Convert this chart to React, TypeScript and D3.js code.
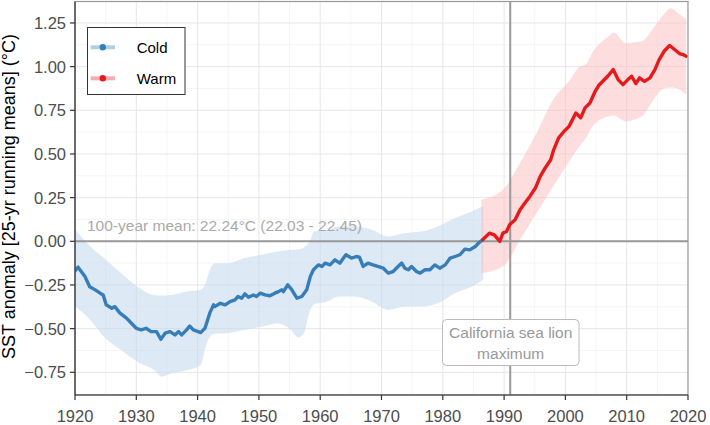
import React from "react";
import * as d3 from "d3";

// ---- data ----
const coldYears = [1920.0,1920.5,1921.6,1922.4,1923.3,1924.1,1924.6,1925.1,1926.0,1926.5,1927.3,1928.4,1929.2,1930.0,1930.8,1931.6,1932.4,1933.3,1934.0,1934.7,1935.5,1936.3,1936.9,1937.4,1938.2,1938.7,1939.3,1940.1,1940.5,1941.2,1942.0,1942.6,1942.8,1943.7,1944.5,1945.3,1946.1,1946.6,1947.2,1947.7,1948.3,1949.1,1949.6,1950.2,1951.0,1951.8,1952.6,1953.2,1953.7,1954.0,1954.7,1955.3,1956.2,1957.0,1957.8,1958.4,1958.9,1959.7,1960.3,1960.8,1961.6,1962.4,1963.2,1963.8,1964.2,1965.1,1965.9,1966.4,1967.0,1967.8,1968.6,1969.4,1970.3,1971.1,1971.9,1972.7,1973.3,1973.8,1974.4,1974.9,1975.7,1976.3,1977.1,1977.9,1978.7,1979.5,1980.4,1981.2,1982.0,1982.8,1983.6,1984.4,1985.3,1985.8,1986.5];
const coldValues = [-0.17,-0.148,-0.2,-0.26,-0.278,-0.297,-0.307,-0.364,-0.383,-0.374,-0.41,-0.44,-0.469,-0.498,-0.507,-0.498,-0.517,-0.517,-0.561,-0.526,-0.517,-0.536,-0.517,-0.536,-0.507,-0.485,-0.507,-0.517,-0.523,-0.498,-0.41,-0.364,-0.374,-0.355,-0.364,-0.345,-0.335,-0.316,-0.326,-0.301,-0.32,-0.307,-0.316,-0.297,-0.307,-0.312,-0.297,-0.288,-0.278,-0.288,-0.249,-0.274,-0.326,-0.316,-0.278,-0.2,-0.163,-0.135,-0.144,-0.125,-0.135,-0.106,-0.125,-0.096,-0.077,-0.096,-0.087,-0.091,-0.144,-0.125,-0.135,-0.144,-0.154,-0.182,-0.173,-0.144,-0.125,-0.154,-0.163,-0.144,-0.173,-0.182,-0.163,-0.163,-0.135,-0.154,-0.135,-0.096,-0.087,-0.077,-0.045,-0.049,-0.03,-0.011,0.009];

const warmYears = [1986.5,1987.6,1988.4,1989.3,1989.8,1990.4,1990.9,1991.8,1992.6,1993.4,1994.2,1995.1,1995.9,1996.7,1997.6,1998.1,1998.9,1999.8,2000.6,2001.7,2002.5,2003.2,2004.0,2004.8,2005.5,2006.1,2006.9,2007.8,2008.6,2009.4,2010.2,2010.8,2011.5,2012.1,2012.9,2013.8,2014.6,2015.3,2016.1,2017.0,2017.8,2018.6,2019.2,2019.7];
const warmValues = [0.009,0.047,0.037,0.0,0.047,0.056,0.095,0.123,0.181,0.219,0.257,0.305,0.372,0.42,0.467,0.525,0.592,0.63,0.658,0.735,0.707,0.764,0.792,0.855,0.895,0.916,0.945,0.983,0.926,0.897,0.926,0.945,0.903,0.936,0.916,0.936,0.983,1.04,1.088,1.121,1.098,1.075,1.069,1.06];

const coldBandYears = [1920.0,1922.5,1924.7,1927.5,1930.2,1932.9,1934.2,1935.7,1938.4,1940.5,1941.2,1942.0,1942.8,1945.0,1947.7,1950.4,1953.1,1955.0,1956.5,1957.3,1958.3,1959.0,1961.2,1963.0,1965.7,1968.4,1971.1,1973.8,1976.5,1979.2,1982.0,1984.7,1986.6];
const coldBandHi = [0.07,-0.03,-0.096,-0.182,-0.26,-0.307,-0.31,-0.307,-0.288,-0.278,-0.249,-0.163,-0.125,-0.125,-0.096,-0.077,-0.058,-0.05,-0.045,-0.035,0.0,0.056,0.066,0.085,0.085,0.066,0.028,0.047,0.056,0.085,0.133,0.171,0.2];
const coldBandLo = [-0.37,-0.45,-0.546,-0.622,-0.689,-0.737,-0.775,-0.756,-0.737,-0.708,-0.62,-0.546,-0.53,-0.526,-0.507,-0.489,-0.47,-0.5,-0.55,-0.53,-0.4,-0.36,-0.345,-0.316,-0.316,-0.345,-0.393,-0.374,-0.374,-0.355,-0.297,-0.26,-0.22];

const warmBandYears = [1986.3,1989.8,1992.6,1995.3,1998.0,2000.8,2002.0,2003.5,2004.4,2007.1,2007.9,2009.8,2012.5,2014.2,2015.8,2017.2,2018.6,2019.7];
const warmBandHi = [0.238,0.295,0.448,0.62,0.811,0.926,0.99,1.02,1.079,1.174,1.194,1.136,1.146,1.213,1.289,1.335,1.3,1.27];
const warmBandLo = [-0.182,-0.144,0.009,0.162,0.314,0.467,0.53,0.6,0.658,0.716,0.72,0.687,0.716,0.8,0.869,0.88,0.869,0.84];

const xTicks = [1920,1930,1940,1950,1960,1970,1980,1990,2000,2010,2020];
const yTicks = [-0.75,-0.5,-0.25,0,0.25,0.5,0.75,1.0,1.25];
const xMinor = [1925,1935,1945,1955,1965,1975,1985,1995,2005,2015];
const yMinor = [-0.875,-0.625,-0.375,-0.125,0.125,0.375,0.625,0.875,1.125,1.375];
const eventYear = 1991;
const meanLabel = "100-year mean: 22.24°C (22.03 - 22.45)";
const yTitle = "SST anomaly [25-yr running means] (°C)";
const legendLabels = ["Cold", "Warm"];

const W = 710, H = 425;
const L = 75, R = 688, T = 1.5, B = 395;
const FONT = "'Liberation Sans', Arial, Helvetica, sans-serif";
const BLUE = "#377EB8", RED = "#E41A1C";

export default function App() {
  const x = d3.scaleLinear().domain([1920, 2020]).range([L, R]);
  const y = d3.scaleLinear().domain([-0.88, 1.373]).range([B, T]);

  const line = d3.line<[number, number]>().x(d => x(d[0])).y(d => y(d[1]));
  const area = d3.area<[number, number, number]>().x(d => x(d[0])).y0(d => y(d[1])).y1(d => y(d[2])).curve(d3.curveMonotoneX);

  const coldPts = coldYears.map((yr, i) => [yr, coldValues[i]] as [number, number]);
  const warmPts = warmYears.map((yr, i) => [yr, warmValues[i]] as [number, number]);
  const coldBand = coldBandYears.map((yr, i) => [yr, coldBandLo[i], coldBandHi[i]] as [number, number, number]);
  const warmBand = warmBandYears.map((yr, i) => [yr, warmBandLo[i], warmBandHi[i]] as [number, number, number]);

  const tickColor = "#333";
  const labelColor = "#4d4d4d";

  return (
    <svg width={W} height={H} style={{ position: "fixed", left: 0, top: 0, display: "block", background: "#fff" }} fontFamily={FONT}>
      <defs>
        <clipPath id="panel"><rect x={L} y={T} width={R - L} height={B - T} /></clipPath>
      </defs>
      <rect x={0} y={0} width={W} height={H} fill="#fff" />
      {/* grid */}
      <g clipPath="url(#panel)">
        {xMinor.map(v => <line key={"xm" + v} x1={x(v)} x2={x(v)} y1={T} y2={B} stroke="#f2f2f2" strokeWidth={0.8} />)}
        {yMinor.map(v => <line key={"ym" + v} x1={L} x2={R} y1={y(v)} y2={y(v)} stroke="#f2f2f2" strokeWidth={0.8} />)}
        {xTicks.map(v => <line key={"xg" + v} x1={x(v)} x2={x(v)} y1={T} y2={B} stroke="#e6e6e6" strokeWidth={1} />)}
        {yTicks.map(v => <line key={"yg" + v} x1={L} x2={R} y1={y(v)} y2={y(v)} stroke="#e6e6e6" strokeWidth={1} />)}
        {/* ribbons */}
        <path d={area(coldBand) || ""} fill="#c6dbef" fillOpacity={0.6} />
        <path d={area(warmBand) || ""} fill="#fcbcbc" fillOpacity={0.5} />
        {/* reference lines */}
        <line x1={L} x2={R} y1={y(0)} y2={y(0)} stroke="#999" strokeWidth={2} />
        <line x1={x(eventYear)} x2={x(eventYear)} y1={T} y2={B} stroke="#999" strokeWidth={2} />
        {/* series */}
        <path d={line(coldPts) || ""} fill="none" stroke={BLUE} strokeWidth={3.4} strokeLinejoin="round" strokeLinecap="round" />
        <path d={line(warmPts) || ""} fill="none" stroke={RED} strokeWidth={3.4} strokeLinejoin="round" strokeLinecap="round" />
      </g>
      {/* panel border */}
      <rect x={L} y={T} width={R - L} height={B - T} fill="none" stroke="#999" strokeWidth={1.2} />
      <line x1={L} x2={L} y1={T} y2={B} stroke={tickColor} strokeWidth={1.2} />
      <line x1={L} x2={R} y1={B} y2={B} stroke={tickColor} strokeWidth={1.2} />
      {/* x axis */}
      {xTicks.map(v => (
        <g key={"xt" + v}>
          <line x1={x(v)} x2={x(v)} y1={B} y2={B + 5} stroke={tickColor} strokeWidth={1.2} />
          <text x={x(v)} y={421.5} textAnchor="middle" fontSize={16.5} fill={labelColor}>{v}</text>
        </g>
      ))}
      {/* y axis */}
      {yTicks.map(v => (
        <g key={"yt" + v}>
          <line x1={L - 5} x2={L} y1={y(v)} y2={y(v)} stroke={tickColor} strokeWidth={1.2} />
          <text x={66} y={y(v)} dy="0.36em" textAnchor="end" fontSize={16.5} fill={labelColor}>{d3.format(".2f")(v)}</text>
        </g>
      ))}
      <text transform={`translate(15,196.5) rotate(-90)`} textAnchor="middle" fontSize={18} fill="#000">{yTitle}</text>
      {/* mean label */}
      <text x={87} y={230.5} fontSize={15.5} fill="#aaaaaa">{meanLabel}</text>
      {/* annotation */}
      <rect x={442.5} y={319.5} width={136.5} height={46} rx={4} ry={4} fill="#fff" stroke="#bbbbbb" strokeWidth={1} />
      <text x={510.7} y={337.5} textAnchor="middle" fontSize={15.5} fill="#999">California sea lion</text>
      <text x={510.7} y={359} textAnchor="middle" fontSize={15.5} fill="#999">maximum</text>
      {/* legend */}
      <rect x={87.5} y={27.5} width={97.5} height={67} fill="#fff" stroke="#333" strokeWidth={1} />
      {legendLabels.map((lab, i) => {
        const cy = i === 0 ? 47.3 : 78.3;
        const c = i === 0 ? BLUE : RED;
        const light = i === 0 ? "#9ecae1" : "#f4a0a4";
        return (
          <g key={lab}>
            <line x1={90.7} x2={115} y1={cy} y2={cy} stroke={light} strokeWidth={4} strokeOpacity={0.85} />
            <circle cx={102.8} cy={cy} r={3.2} fill={c} />
            <text x={136.7} y={cy} dy="0.36em" fontSize={15} fill="#000">{lab}</text>
          </g>
        );
      })}
    </svg>
  );
}
